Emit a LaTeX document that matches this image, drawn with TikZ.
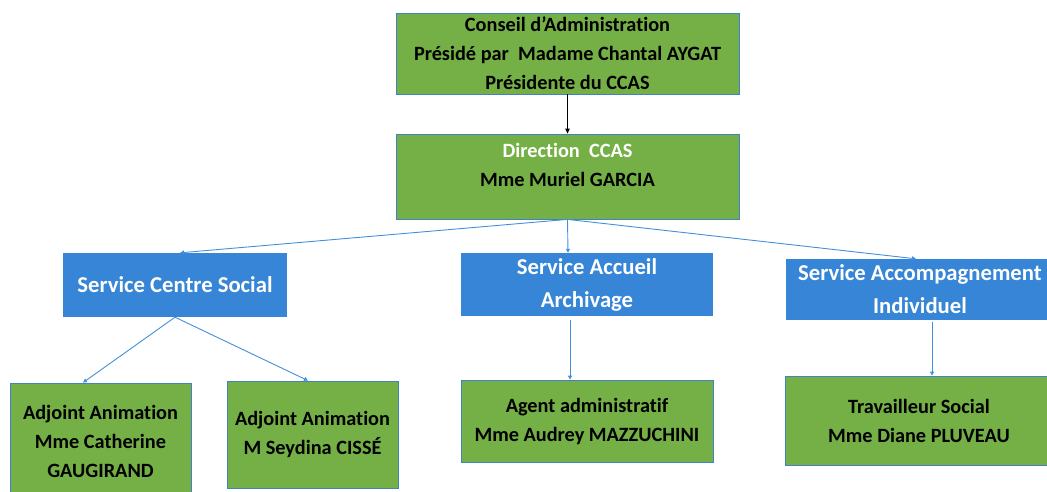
\documentclass[tikz,border=0pt]{standalone}
\usepackage{fontspec}
\setmainfont{Carlito}[Ligatures={NoCommon}]
\usetikzlibrary{arrows.meta}

\definecolor{boxgreen}{RGB}{116,176,70}
\definecolor{boxblue}{RGB}{54,133,214}
\definecolor{edgeblue}{RGB}{68,128,200}
\definecolor{linkblue}{RGB}{66,144,218}

\begin{document}
\begin{tikzpicture}[
    x=1pt, y=-1pt,
    % Styles
    box/.style={ % Any box of the chart
        rectangle,
        align=center,
        inner sep=2pt
    },
    person/.style={ % Green boxes
        box,
        draw=edgeblue,
        line width=0.8pt,
        fill=boxgreen,
        text=black,
        font=\fontsize{20.3}{29}\selectfont\bfseries
    },
    service/.style={ % Blue boxes
        box,
        fill=boxblue,
        text=white,
        font=\fontsize{22.7}{33}\selectfont\bfseries
    },
    link/.style={ % Blue connectors
        -{Triangle[length=4pt,width=4pt]},
        linkblue,
        line width=0.9pt
    }
]
    \useasboundingbox (0,0) rectangle (1047,491);

    % Top of the chart
    \node[person, minimum width=343pt, minimum height=81pt] (conseil) at (567.5,53.5)
        {Conseil d’Administration\\Présidé par\ \ Madame Chantal AYGAT\\Présidente du CCAS};
    \node[person, minimum width=343pt, minimum height=85pt] (direction) at (567.5,176.5)
        {\textcolor{white}{Direction\ \ CCAS}\\Mme Muriel GARCIA\\[-5pt]\mbox{}};

    % Services
    \node[service, minimum width=224pt, minimum height=64pt] (centre) at (175,285)
        {Service Centre Social};
    \node[service, minimum width=252pt, minimum height=63pt] (accueil) at (587,284.5)
        {Service Accueil\\Archivage};
    \node[service, minimum width=268pt, minimum height=61pt] (accomp) at (920,289.5)
        {Service Accompagnement\\Individuel};

    % Staff
    \node[person, minimum width=181pt, minimum height=116pt] (adjoint1) at (100.5,441)
        {Adjoint Animation\\Mme Catherine\\GAUGIRAND};
    \node[person, minimum width=171pt, minimum height=107pt] (adjoint2) at (312.5,434.5)
        {Adjoint Animation\\M Seydina CISSÉ};
    \node[person, minimum width=252pt, minimum height=82pt] (agent) at (587,421)
        {Agent administratif\\Mme Audrey MAZZUCHINI};
    \node[person, minimum width=268pt, minimum height=89pt] (travailleur) at (919,420.5)
        {Travailleur Social\\Mme Diane PLUVEAU};

    % Connectors
    \draw[-{Triangle[length=5pt,width=4.5pt]}, line width=1.1pt] (conseil.south) -- (direction.north);
    \draw[link] (direction.south) -- ([xshift=5pt]centre.north);
    \draw[link] (direction.south) -- ([xshift=-19pt]accueil.north);
    \draw[link] (direction.south) -- ([xshift=-4pt]accomp.north);
    \draw[link] (centre.south) -- ([xshift=-17.5pt]adjoint1.north);
    \draw[link] (centre.south) -- ([xshift=-4.5pt]adjoint2.north);
    \draw[link, shorten <=4pt] ([xshift=-17pt]accueil.south) -- ([xshift=-17pt]agent.north);
    \draw[link, shorten <=2pt] ([xshift=12pt]accomp.south) -- ([xshift=13pt]travailleur.north);
\end{tikzpicture}
\end{document}
